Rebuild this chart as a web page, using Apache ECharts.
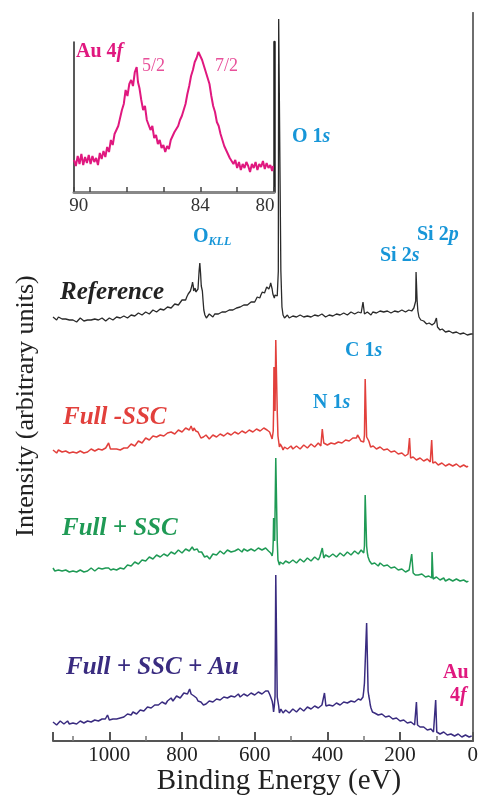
<!DOCTYPE html>
<html><head><meta charset="utf-8">
<script src="https://cdn.jsdelivr.net/npm/echarts@6/dist/echarts.min.js"></script>
<style>html,body{margin:0;padding:0;background:#fff}#c{width:481px;height:796px}</style>
</head><body><div id="c"></div>
<script>
// Binding energy (eV) vs intensity (arbitrary units, offset stacked)
const xTickLabels = [1000, 800, 600, 400, 200, 0];
const insetTickLabels = [90, 84, 80];

const reference = [[1155,424],[1150,422],[1145,421],[1140,424],[1135,425],[1130,422],[1125,420],[1120,422],[1115,423],[1110,421],[1105,419],[1100,421],[1095,422],[1090,419],[1085,420],[1080,423],[1075,422],[1070,420],[1065,419],[1060,421],[1055,423],[1050,421],[1045,420],[1040,422],[1035,424],[1030,421],[1025,421],[1020,423],[1015,423],[1010,420],[1005,420],[1000,423],[995,424],[990,421],[985,422],[980,424],[975,425],[970,423],[965,422],[960,425],[955,426],[950,423],[945,423],[940,426],[935,427],[930,425],[925,425],[920,428],[915,428],[910,426],[905,426],[900,429],[895,429],[890,427],[885,428],[880,431],[875,431],[870,429],[865,429],[860,432],[855,433],[850,431],[845,431],[840,434],[835,435],[830,433],[825,434],[820,437],[815,438],[810,436],[805,438],[800,441],[795,442],[790,441],[787,444],[783,447],[780,448],[777,450],[775,452],[773,455],[771,459],[769,455],[768,450],[766,452],[764,453],[762,449],[760,447],[758,450],[756,452],[754,450],[753,470],[751,478],[749,468],[747,455],[744,450],[742,440],[740,431],[737,426],[733,423],[729,425],[725,427],[720,425],[715,424],[710,427],[705,429],[700,427],[695,426],[690,429],[685,431],[680,429],[675,428],[670,431],[665,433],[660,431],[655,430],[650,433],[645,435],[640,434],[635,433],[630,436],[625,438],[620,436],[615,436],[610,439],[605,441],[600,439],[597,441],[593,444],[590,445],[586,443],[583,446],[579,449],[576,450],[573,448],[570,451],[567,454],[564,453],[561,452],[558,455],[556,458],[554,459],[552,452],[550,447],[548,445],[546,443],[544,446],[542,448],[540,444],[538,445],[535,470],[534,722],[530,722],[528,470],[525,434],[522,426],[518,423],[514,425],[510,426],[505,423],[500,422],[495,425],[490,426],[485,424],[480,423],[475,426],[470,427],[465,424],[460,422],[455,425],[450,426],[445,424],[440,423],[435,426],[430,427],[425,425],[420,424],[415,427],[410,426],[405,424],[400,423],[395,426],[390,427],[385,425],[380,424],[375,427],[370,428],[365,426],[360,425],[355,428],[350,428],[345,426],[340,426],[335,429],[330,429],[325,427],[320,426],[315,429],[310,429],[307,428],[304,430],[302,439],[300,439],[298,427],[294,428],[290,429],[285,427],[280,426],[275,429],[270,430],[265,428],[260,427],[255,430],[250,431],[245,429],[240,427],[235,430],[230,430],[225,428],[220,427],[215,430],[210,431],[205,429],[200,428],[195,431],[190,431],[185,429],[180,428],[176,431],[172,431],[168,430],[165,431],[162,433],[160,435],[157,440],[156,469],[154,469],[153,440],[151,430],[148,424],[145,422],[143,421],[139,422],[135,420],[131,418],[127,417],[123,419],[120,418],[116,416],[112,416],[108,418],[105,418],[103,416],[101,417],[100,423],[98,423],[97,414],[95,413],[93,412],[90,411],[88,410],[84,412],[80,411],[75,409],[70,408],[65,410],[60,410],[55,408],[50,407],[45,409],[40,409],[35,407],[30,406],[25,408],[20,408],[15,406],[10,405],[5,407],[0,407]];

const fullMinusSSC = [[1155,291],[1150,289],[1145,288],[1140,291],[1135,292],[1130,289],[1125,287],[1120,290],[1115,291],[1110,288],[1105,286],[1100,289],[1095,290],[1090,288],[1085,287],[1080,290],[1075,291],[1070,288],[1065,287],[1060,289],[1055,290],[1050,292],[1045,292],[1040,290],[1035,289],[1030,292],[1025,293],[1020,291],[1015,290],[1010,293],[1005,295],[1002,298],[1000,297],[997,292],[995,290],[990,292],[985,290],[980,292],[975,293],[970,291],[965,290],[960,293],[955,295],[950,293],[945,294],[940,297],[935,297],[930,295],[925,297],[920,300],[915,300],[910,298],[905,300],[900,303],[895,304],[890,301],[885,302],[880,305],[875,306],[870,304],[865,303],[860,306],[855,307],[850,305],[845,306],[840,308],[835,307],[830,309],[825,310],[820,307],[815,308],[810,311],[805,311],[800,309],[795,310],[790,313],[785,313],[780,311],[775,315],[772,313],[770,310],[767,313],[765,314],[762,310],[760,308],[756,309],[752,307],[748,303],[745,302],[741,304],[738,303],[734,306],[730,305],[725,302],[720,303],[715,306],[710,307],[705,304],[700,304],[695,307],[690,308],[685,305],[680,305],[675,308],[670,309],[665,306],[660,306],[655,309],[650,310],[645,307],[640,307],[635,310],[630,311],[625,308],[620,308],[615,311],[610,312],[605,309],[600,309],[595,312],[590,313],[585,310],[580,310],[575,313],[570,314],[566,311],[562,310],[559,309],[556,307],[552,302],[549,310],[548,330],[547,374],[545,374],[544,330],[542,401],[540,401],[538,330],[536,305],[532,294],[530,297],[528,299],[525,294],[522,291],[518,294],[515,295],[510,292],[505,292],[500,295],[495,292],[490,292],[485,295],[480,295],[475,292],[470,293],[465,296],[460,295],[455,293],[450,294],[445,297],[440,296],[435,294],[430,295],[425,298],[421,297],[418,295],[416,296],[414,312],[412,312],[410,298],[405,299],[400,296],[395,297],[390,298],[385,299],[380,297],[375,298],[370,299],[365,301],[360,298],[355,299],[350,301],[345,302],[340,300],[335,301],[330,303],[325,304],[320,303],[317,306],[315,307],[312,303],[308,300],[304,302],[300,299],[298,306],[296,362],[294,362],[292,304],[290,306],[288,302],[286,300],[284,298],[281,294],[278,292],[274,295],[270,295],[265,292],[260,291],[255,294],[250,294],[245,291],[240,290],[235,292],[230,291],[225,289],[220,288],[215,290],[210,289],[205,287],[200,286],[195,288],[190,287],[186,285],[182,285],[178,287],[175,285],[174,303],[172,303],[171,283],[168,283],[164,284],[160,283],[155,281],[150,281],[145,283],[140,282],[135,280],[130,280],[125,282],[120,281],[117,279],[114,279],[113,301],[111,301],[110,278],[106,279],[103,279],[100,278],[95,276],[90,276],[85,278],[80,277],[75,275],[70,275],[65,277],[60,277],[55,275],[50,275],[45,277],[40,276],[35,274],[30,274],[25,276],[20,276],[16,274],[13,275]];

const fullPlusSSC = [[1155,173],[1150,170],[1145,169],[1140,171],[1135,172],[1130,170],[1125,168],[1120,171],[1115,172],[1110,169],[1105,168],[1100,170],[1095,171],[1090,169],[1085,168],[1080,171],[1075,172],[1070,169],[1065,168],[1060,170],[1055,171],[1050,173],[1045,172],[1040,170],[1035,170],[1030,173],[1025,174],[1020,172],[1015,171],[1010,173],[1005,175],[1002,173],[999,174],[996,171],[993,170],[989,172],[985,173],[980,171],[975,170],[970,173],[965,174],[960,172],[955,173],[950,176],[945,177],[940,175],[935,176],[930,179],[925,179],[920,177],[915,178],[910,181],[905,182],[900,180],[895,181],[890,184],[885,183],[880,182],[875,183],[870,186],[865,186],[860,184],[855,184],[850,187],[845,187],[840,185],[835,186],[830,189],[825,189],[820,187],[815,188],[810,191],[805,190],[800,188],[795,189],[790,192],[785,192],[780,190],[775,191],[772,194],[770,194],[767,191],[765,191],[762,193],[758,192],[754,189],[750,188],[746,189],[742,187],[738,184],[735,183],[731,185],[728,184],[724,182],[720,184],[715,187],[710,188],[705,186],[700,187],[695,190],[690,189],[685,187],[680,188],[675,191],[670,191],[665,189],[660,188],[655,190],[650,191],[645,192],[640,190],[635,189],[630,192],[625,193],[620,190],[615,190],[610,192],[605,193],[600,190],[595,191],[590,193],[585,192],[580,191],[575,192],[570,193],[566,191],[562,190],[559,189],[556,188],[552,185],[550,190],[549,200],[548,223],[546,223],[545,200],[543,200],[542,283],[540,283],[538,200],[536,181],[532,176],[530,179],[528,180],[525,178],[522,177],[518,179],[515,180],[510,180],[505,178],[500,179],[495,181],[490,180],[485,178],[480,180],[475,182],[470,181],[465,179],[460,181],[455,183],[450,182],[445,180],[440,182],[435,184],[430,183],[425,181],[421,184],[418,185],[416,184],[414,193],[412,193],[410,183],[405,186],[400,185],[395,184],[390,184],[385,187],[380,186],[375,184],[370,185],[365,188],[360,187],[355,185],[350,186],[345,189],[340,188],[335,186],[330,187],[325,190],[320,189],[315,187],[310,188],[307,191],[305,191],[302,189],[300,188],[298,195],[296,246],[294,246],[292,195],[290,188],[288,184],[286,182],[284,180],[281,178],[278,177],[274,179],[270,178],[265,176],[260,175],[255,178],[250,177],[245,175],[240,174],[235,176],[230,175],[225,173],[220,172],[215,174],[210,173],[205,171],[200,170],[195,172],[190,171],[185,169],[180,169],[175,171],[170,170],[168,187],[166,187],[164,168],[162,168],[158,166],[155,167],[150,166],[145,165],[140,167],[135,166],[130,164],[125,163],[121,165],[117,165],[113,163],[112,189],[110,189],[109,162],[105,163],[100,164],[95,162],[90,161],[85,163],[80,163],[75,160],[70,160],[65,162],[60,162],[55,160],[50,160],[45,162],[40,162],[35,160],[30,159],[25,161],[20,161],[16,159],[12,160]];

const fullPlusSSCAu = [[1155,19],[1150,17],[1145,16],[1140,18],[1135,20],[1130,18],[1125,17],[1120,19],[1115,20],[1110,17],[1105,16],[1100,18],[1095,19],[1090,17],[1085,18],[1080,20],[1075,20],[1070,18],[1065,18],[1060,20],[1055,21],[1050,19],[1045,19],[1040,21],[1035,22],[1030,20],[1025,20],[1020,22],[1015,23],[1011,22],[1007,24],[1005,26],[1004,28],[1002,24],[1000,21],[997,20],[995,21],[990,22],[985,20],[980,22],[975,24],[970,23],[965,22],[960,24],[955,26],[950,27],[945,25],[940,26],[935,29],[930,30],[925,27],[920,28],[915,31],[910,32],[905,30],[900,32],[895,34],[890,35],[885,33],[880,34],[875,36],[870,38],[865,36],[860,37],[855,39],[850,40],[845,37],[840,40],[835,42],[830,43],[825,40],[820,42],[815,45],[810,46],[805,43],[800,45],[795,48],[790,49],[785,47],[782,49],[779,52],[777,50],[775,47],[772,49],[770,48],[767,45],[765,43],[762,44],[760,43],[756,40],[752,38],[748,39],[745,38],[741,36],[738,35],[734,37],[730,39],[725,40],[720,38],[715,39],[710,41],[705,42],[700,40],[695,41],[690,43],[685,44],[680,42],[675,43],[670,44],[665,45],[660,43],[655,44],[650,46],[645,47],[640,44],[635,45],[630,47],[625,48],[620,45],[615,46],[610,48],[605,49],[600,46],[595,47],[590,49],[585,50],[580,47],[575,48],[570,50],[566,51],[563,50],[560,48],[558,46],[556,45],[554,44],[552,40],[550,36],[548,29],[546,35],[544,45],[542,166],[540,166],[538,44],[536,42],[534,35],[532,28],[530,30],[528,32],[525,30],[522,28],[518,30],[515,31],[510,30],[505,28],[500,30],[495,32],[490,31],[485,29],[480,30],[475,33],[470,32],[465,30],[460,31],[455,34],[450,33],[445,32],[440,33],[435,35],[430,34],[425,33],[420,34],[415,36],[412,35],[410,37],[408,48],[406,48],[404,35],[400,37],[395,36],[390,36],[385,35],[380,37],[375,38],[370,37],[365,36],[360,38],[355,39],[350,38],[345,38],[340,40],[335,40],[330,39],[325,39],[320,41],[315,42],[311,40],[308,41],[305,43],[302,44],[300,50],[298,58],[296,60],[294,60],[292,118],[290,118],[288,50],[286,45],[284,41],[282,36],[280,33],[278,31],[276,29],[273,30],[270,28],[265,27],[260,26],[255,28],[250,27],[245,25],[240,24],[235,26],[230,25],[225,23],[220,22],[215,24],[210,23],[205,21],[200,20],[195,22],[190,21],[185,19],[180,18],[175,20],[170,19],[165,17],[160,16],[158,18],[156,17],[155,39],[153,39],[152,16],[148,15],[145,14],[140,15],[135,14],[130,12],[125,11],[120,13],[115,12],[111,10],[108,9],[105,11],[103,11],[102,41],[100,41],[99,9],[95,8],[90,7],[85,9],[80,9],[75,7],[70,6],[65,8],[60,7],[55,5],[50,5],[45,7],[40,7],[35,5],[30,4],[25,6],[20,6],[15,4],[10,4],[6,6],[3,5]];

const au4f = [[90.85,32],[90.75,26],[90.65,36],[90.55,28],[90.45,38],[90.35,27],[90.25,35],[90.15,29],[90.05,37],[89.95,28],[89.85,36],[89.75,30],[89.65,34],[89.55,27],[89.45,39],[89.35,33],[89.25,41],[89.15,35],[89.05,45],[88.95,40],[88.85,52],[88.75,47],[88.65,58],[88.55,62],[88.45,66],[88.35,74],[88.25,82],[88.15,88],[88.05,102],[87.95,96],[87.85,108],[87.75,112],[87.65,106],[87.55,120],[87.45,125],[87.38,110],[87.3,104],[87.2,92],[87.1,82],[87.0,86],[86.9,72],[86.8,70],[86.7,62],[86.6,66],[86.5,54],[86.4,57],[86.3,48],[86.2,52],[86.1,44],[86.0,47],[85.9,40],[85.8,46],[85.7,43],[85.6,52],[85.5,50],[85.4,60],[85.3,58],[85.2,66],[85.1,72],[85.0,76],[84.9,82],[84.8,88],[84.7,98],[84.6,106],[84.5,116],[84.4,122],[84.3,130],[84.2,134],[84.1,140],[84.0,136],[83.9,132],[83.8,126],[83.7,128],[83.6,114],[83.5,108],[83.4,96],[83.3,86],[83.2,80],[83.1,70],[83.0,66],[82.9,58],[82.8,52],[82.7,46],[82.6,42],[82.5,38],[82.4,34],[82.3,36],[82.2,28],[82.1,32],[82.0,24],[81.9,30],[81.8,22],[81.7,28],[81.6,24],[81.5,30],[81.4,26],[81.3,20],[81.2,28],[81.1,24],[81.0,30],[80.9,22],[80.8,28],[80.7,25],[80.6,31],[80.5,23],[80.4,29],[80.3,24],[80.2,27],[80.1,21],[80.05,26]];

const SERIF = '"Liberation Serif", "DejaVu Serif", serif';
const BLUE = '#1796d8';
const MAG = '#e0187f';

const chart = echarts.init(document.getElementById('c'), null, {renderer: 'canvas'});

function line(data, color, xi, yi, w) {
  return {type: 'line', data: data, xAxisIndex: xi, yAxisIndex: yi, showSymbol: false, symbol: 'none',
    lineStyle: {color: color, width: w}, silent: true, z: 3};
}
function txt(x, y, text, rich) {
  return {type: 'text', x: x, y: y, silent: true, z: 10,
    style: {text: text, rich: rich, font: 'bold 20px ' + SERIF, fill: '#000', verticalAlign: 'top'}};
}

const blueRich = {
  a: {fontFamily: SERIF, fontWeight: 'bold', fontSize: 20, fill: BLUE},
  b: {fontFamily: SERIF, fontWeight: 'bold', fontStyle: 'italic', fontSize: 20, fill: BLUE},
  s: {fontFamily: SERIF, fontWeight: 'bold', fontStyle: 'italic', fontSize: 12, fill: BLUE, padding: [10, 0, 0, 0]}
};
const magRich = {
  a: {fontFamily: SERIF, fontWeight: 'bold', fontSize: 20, fill: MAG},
  b: {fontFamily: SERIF, fontWeight: 'bold', fontStyle: 'italic', fontSize: 20, fill: MAG},
  c: {fontFamily: SERIF, fontSize: 18, fill: '#e8509a'}
};
function seriesRich(color) {
  return {a: {fontFamily: SERIF, fontWeight: 'bold', fontStyle: 'italic', fontSize: 25, fill: color}};
}

chart.setOption({
  animation: false,
  backgroundColor: '#fff',
  grid: [
    {left: 53, top: 13, right: 8, bottom: 55, containLabel: false},
    {left: 74, top: 42, width: 200, height: 150, containLabel: false}
  ],
  xAxis: [
    {gridIndex: 0, type: 'value', min: 0, max: 1155, inverse: true, interval: 200,
      axisLine: {show: true, lineStyle: {color: '#555', width: 2}},
      axisTick: {show: true, inside: true, length: 9, lineStyle: {color: '#555', width: 2}},
      minorTick: {show: true, splitNumber: 2, length: 5, lineStyle: {color: '#777', width: 1.5}},
      splitLine: {show: false}, minorSplitLine: {show: false},
      axisLabel: {fontFamily: SERIF, fontSize: 21, color: '#222', margin: 4,
        formatter: v => xTickLabels.indexOf(v) >= 0 ? String(v) : ''}},
    {gridIndex: 1, type: 'value', min: 80, max: 90.85, inverse: true, interval: 2,
      axisLine: {show: true, lineStyle: {color: '#777', width: 2}},
      axisTick: {show: true, inside: true, length: 5, lineStyle: {color: '#444', width: 1.5}},
      splitLine: {show: false},
      axisLabel: {fontFamily: SERIF, fontSize: 19, color: '#333', margin: 5,
        formatter: v => v === 90 ? '{l|90}' : (v === 80 ? '{r|80}' : (insetTickLabels.indexOf(v) >= 0 ? String(v) : '')),
        rich: {l: {fontFamily: SERIF, fontSize: 19, color: '#333', padding: [0, 22, 0, 0]},
               r: {fontFamily: SERIF, fontSize: 19, color: '#333', padding: [0, 0, 0, -18]}}}},
    {gridIndex: 1, type: 'value', position: 'top', min: 80, max: 90.85, inverse: true,
      axisLine: {show: true, lineStyle: {color: '#888', width: 3}},
      axisTick: {show: false}, axisLabel: {show: false}, splitLine: {show: false}}
  ],
  yAxis: [
    {gridIndex: 0, type: 'value', min: 0, max: 728,
      axisLine: {show: true, lineStyle: {color: '#555', width: 2}},
      axisTick: {show: false}, axisLabel: {show: false}, splitLine: {show: false}},
    {gridIndex: 0, type: 'value', position: 'right', min: 0, max: 728,
      axisLine: {show: true, lineStyle: {color: '#777', width: 1.5}},
      axisTick: {show: false}, axisLabel: {show: false}, splitLine: {show: false}},
    {gridIndex: 1, type: 'value', min: 0, max: 150,
      axisLine: {show: true, lineStyle: {color: '#222', width: 1.5}},
      axisTick: {show: false}, axisLabel: {show: false}, splitLine: {show: false}},
    {gridIndex: 1, type: 'value', position: 'right', min: 0, max: 150,
      axisLine: {show: true, lineStyle: {color: '#222', width: 2.5}},
      axisTick: {show: false}, axisLabel: {show: false}, splitLine: {show: false}}
  ],
  series: [
    line(reference, '#2a2a2a', 0, 0, 1.3),
    line(fullMinusSSC, '#e2403c', 0, 0, 1.5),
    line(fullPlusSSC, '#1f9a55', 0, 0, 1.5),
    line(fullPlusSSCAu, '#3a2c80', 0, 0, 1.5),
    line(au4f, MAG, 1, 2, 2)
  ],
  graphic: [
    {type: 'text', x: 26, y: 406, rotation: Math.PI / 2, silent: true,
      style: {text: 'Intensity (arbitrary units)', font: '26px ' + SERIF, fill: '#222', align: 'center', verticalAlign: 'middle'}},
    {type: 'text', x: 279, y: 781, silent: true,
      style: {text: 'Binding Energy (eV)', font: '29px ' + SERIF, fill: '#222', align: 'center', verticalAlign: 'middle'}},
    txt(60, 280, '{a|Reference}', seriesRich('#222')),
    txt(63, 405, '{a|Full -SSC}', seriesRich('#e2403c')),
    txt(62, 516, '{a|Full + SSC}', seriesRich('#1f9a55')),
    txt(66, 655, '{a|Full + SSC + Au}', seriesRich('#3a2c80')),
    txt(292, 127, '{a|O 1}{b|s}', blueRich),
    txt(193, 226, '{a|O}{s|KLL}', blueRich),
    txt(417, 225, '{a|Si 2}{b|p}', blueRich),
    txt(380, 246, '{a|Si 2}{b|s}', blueRich),
    txt(345, 341, '{a|C 1}{b|s}', blueRich),
    txt(313, 393, '{a|N 1}{b|s}', blueRich),
    txt(443, 663, '{a|Au}', magRich),
    txt(450, 686, '{a|4}{b|f}', magRich),
    txt(76, 42, '{a|Au 4}{b|f}', magRich),
    txt(142, 57, '{c|5/2}', magRich),
    txt(215, 57, '{c|7/2}', magRich)
  ]
});
</script></body></html>
